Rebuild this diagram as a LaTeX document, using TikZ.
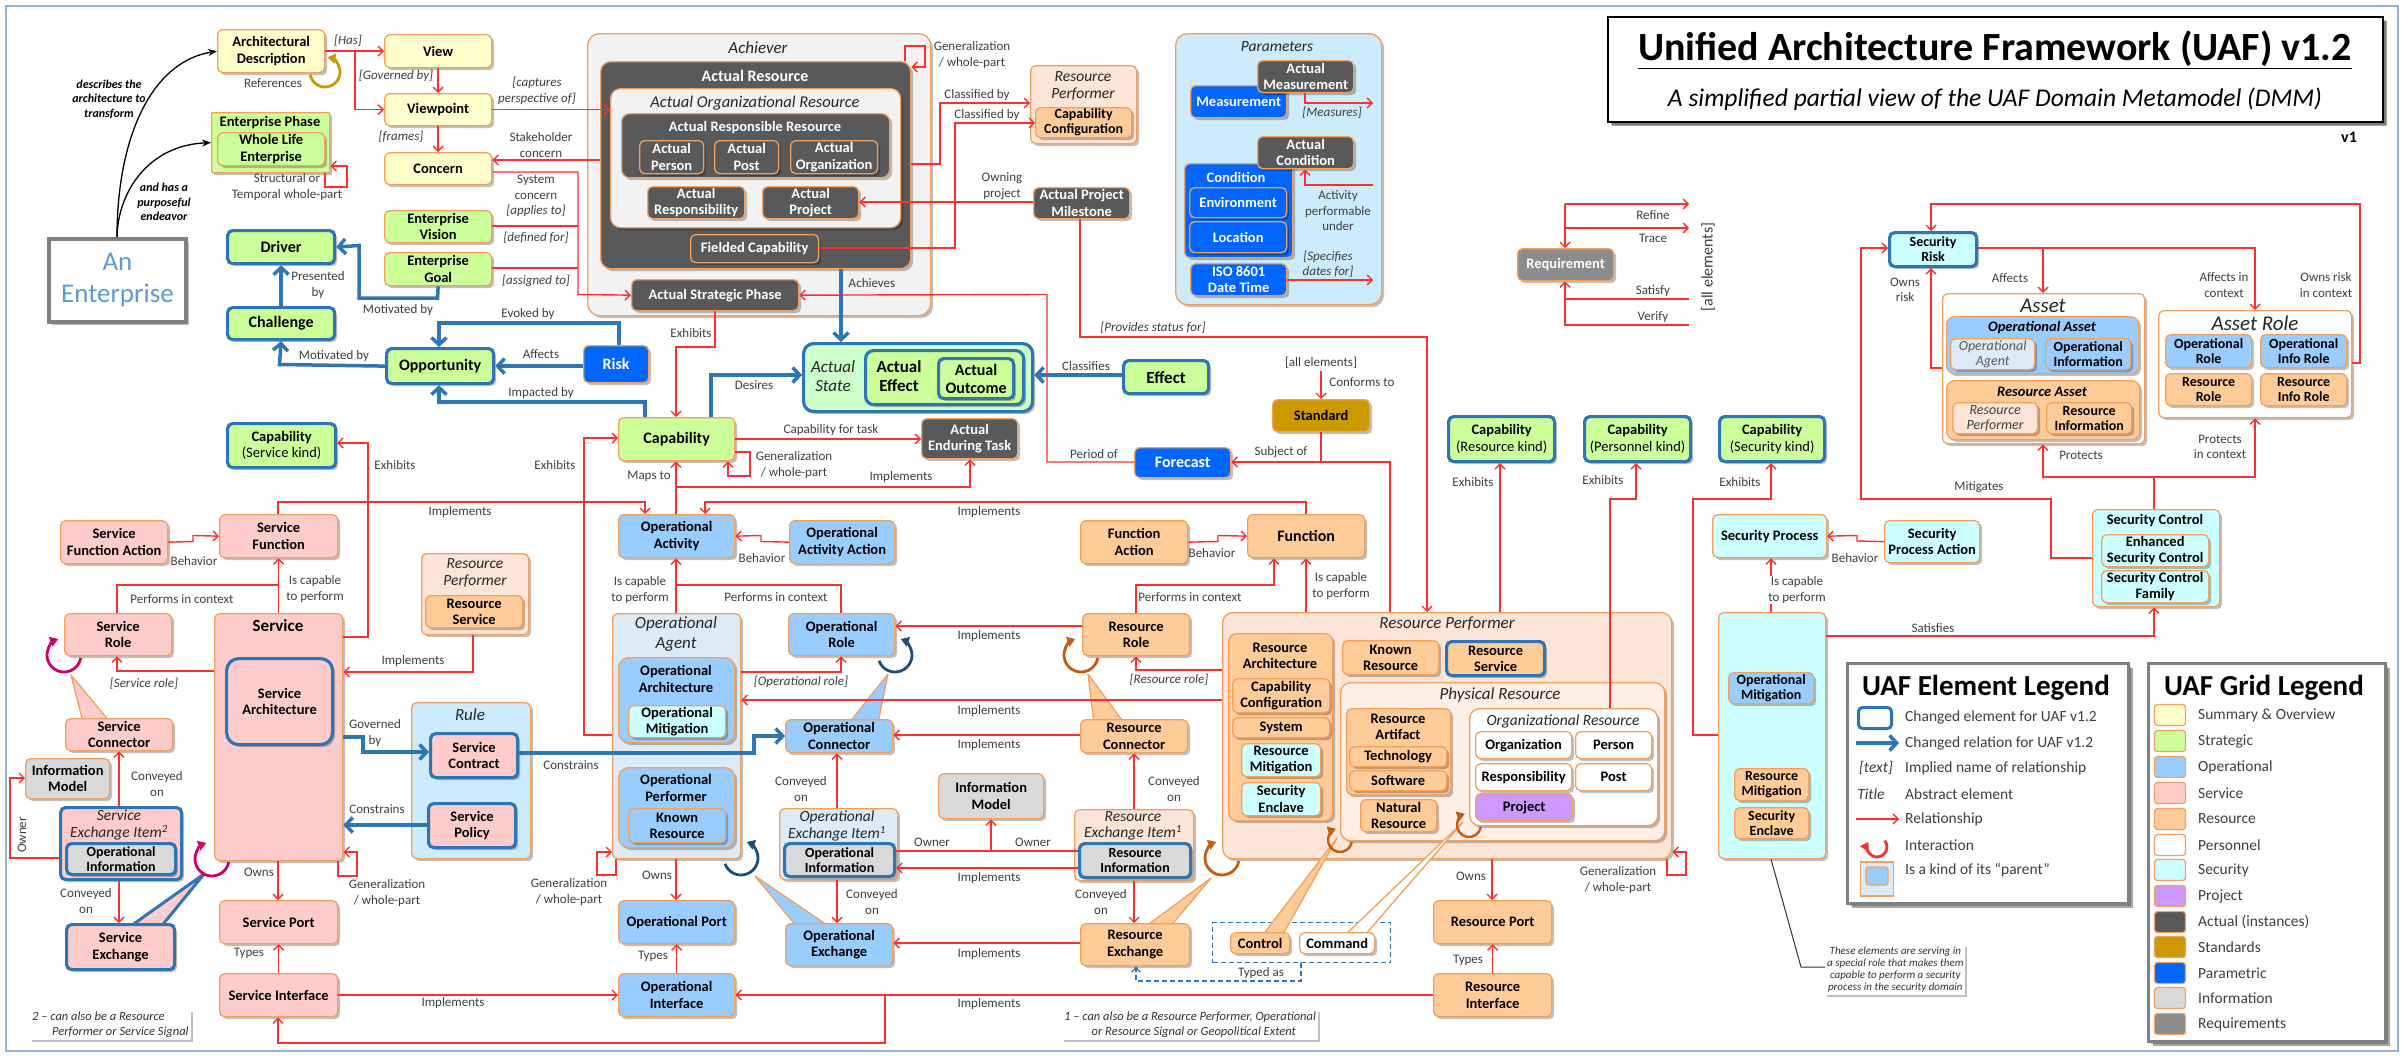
\documentclass[tikz,border=0pt]{standalone}
\usepackage{fontspec}
\setmainfont{Carlito}
\usetikzlibrary{arrows.meta,shadows}
\definecolor{ob}{HTML}{F2A05C}
\definecolor{cblue}{HTML}{2E75B6}
\definecolor{cred}{HTML}{FF2E2E}
\definecolor{cyel}{HTML}{FFFFCC}
\definecolor{cstr}{HTML}{CCFF99}
\definecolor{cop}{HTML}{99CCFF}
\definecolor{csvc}{HTML}{FFCCCC}
\definecolor{cres}{HTML}{FFCC99}
\definecolor{csec}{HTML}{CCFFFF}
\definecolor{cproj}{HTML}{CC99FF}
\definecolor{cact}{HTML}{595959}
\definecolor{cstd}{HTML}{CC9900}
\definecolor{cpar}{HTML}{0066FF}
\definecolor{cinfo}{HTML}{D9D9D9}
\definecolor{creq}{HTML}{8C8C8C}
\definecolor{cabo}{HTML}{DDEBF7}
\definecolor{cabr}{HTML}{FCE4D6}
\definecolor{cgrey}{HTML}{F2F2F2}
\definecolor{cblu}{HTML}{CCEBFC}
\definecolor{cas}{HTML}{CCFFCC}
\definecolor{clab}{HTML}{3F3F3F}
\definecolor{cent}{HTML}{5B9BD5}
\definecolor{cmag}{HTML}{CC0066}
\definecolor{cdb}{HTML}{1F4E79}
\definecolor{cbr}{HTML}{C55A11}
\definecolor{cgold}{HTML}{C99A06}
\definecolor{cframe}{HTML}{95B3D7}
\newcommand{\mkbox}[7]{\node[#6,anchor=north west,minimum width=#4pt-#2pt,minimum height=#5pt-#3pt] (#1) at (#2,#3) {#7};}
\begin{document}
\begin{tikzpicture}[x=1pt,y=-1pt,
 bx/.style={draw=ob,line width=1.3pt,rounded corners=5pt,align=center,inner sep=0.5pt,font=\bfseries\fontsize{14.5}{16.5}\selectfont,text=black,drop shadow={shadow xshift=2.5pt,shadow yshift=-2.5pt,opacity=0.25,fill=black}},
 chg/.style={draw=cblue,line width=3.2pt},
 tight/.style={font=\bfseries\fontsize{14}{15}\selectfont},
 kyel/.style={bx,fill=cyel}, kstr/.style={bx,fill=cstr}, kop/.style={bx,fill=cop},
 ksvc/.style={bx,fill=csvc}, kres/.style={bx,fill=cres}, kper/.style={bx,fill=white},
 ksec/.style={bx,fill=csec}, kproj/.style={bx,fill=cproj}, kact/.style={bx,fill=cact,text=white},
 kstd/.style={bx,fill=cstd}, kpar/.style={bx,fill=cpar,text=white}, kinfo/.style={bx,fill=cinfo},
 kreq/.style={bx,fill=creq,text=white}, kabo/.style={bx,fill=cabo}, kabr/.style={bx,fill=cabr},
 lb/.style={font=\fontsize{13}{15.5}\selectfont,text=clab,align=center,inner sep=1pt},
 lbw/.style={lb,fill=white},
 lbi/.style={lb,font=\itshape\fontsize{13}{15.5}\selectfont},
 tt/.style={font=\itshape\fontsize{15.5}{16.5}\selectfont,align=center,inner sep=0pt,text=black!85},
 tb/.style={font=\bfseries\fontsize{14.5}{16.5}\selectfont,align=center,inner sep=0pt},
 rel/.style={draw=cred,line width=1.4pt,-{Straight Barb[length=5pt,width=10pt]}},
 reln/.style={draw=cred,line width=1.4pt},
 bl/.style={draw=cblue,line width=3.5pt,-{Straight Barb[length=7pt,width=15pt]}},
 inter/.style={line width=2.8pt,-{Triangle[length=8pt,width=10pt]}},
 tl/.style={line width=1.3pt,line join=round},
 note/.style={fill=white,font=\itshape\fontsize{12.5}{15}\selectfont,text=black!80,inner sep=2pt,drop shadow={shadow xshift=2pt,shadow yshift=-2pt,opacity=0.25,fill=black}},
 leg/.style={font=\fontsize{15.5}{17}\selectfont,text=clab,anchor=west,inner sep=0pt},
 sw/.style={draw=ob,line width=1.3pt,rounded corners=3pt,minimum width=31pt,minimum height=21pt,inner sep=0pt}
]
\useasboundingbox (0,0) rectangle (2404,1055);
\fill[white] (0,0) rectangle (2404,1055);
\draw[cframe,line width=1.5pt] (6,6) rectangle (2398,1051);

% ---------- title ----------
\mkbox{title}{1607}{16}{2382}{121}{bx,fill=white,draw=black,line width=2pt,rounded corners=0pt,drop shadow={shadow xshift=4pt,shadow yshift=-4pt,opacity=0.35,fill=black}}{}
\node[font=\bfseries\fontsize{40}{46}\selectfont,inner sep=0pt] (ttl1) at (1995,50) {\underline{Unified Architecture Framework (UAF) v1.2}};
\node[font=\itshape\fontsize{25.5}{30}\selectfont,inner sep=0pt] (ttl2) at (1995,99) {A simplified partial view of the UAF Domain Metamodel (DMM)};
\node[font=\bfseries\fontsize{16}{18}\selectfont] (v1) at (2349,137) {v1};

% ---------- top left ----------
\mkbox{AD}{217}{29}{324}{72}{kyel}{Architectural\\Description}
\mkbox{View}{384}{34}{491}{67}{kyel}{View}
\mkbox{VP}{384}{93}{491}{125}{kyel}{Viewpoint}
\mkbox{Con}{384}{152}{491}{184}{kyel}{Concern}
\mkbox{EPh}{211}{112}{329}{172}{kstr,rounded corners=1pt}{}
\node[tb] (EPht) at (270,123) {Enterprise Phase};
\mkbox{WLE}{217}{132}{324}{165}{kstr}{Whole Life\\Enterprise}
\mkbox{EV}{384}{210}{491}{242}{kstr}{Enterprise\\Vision}
\mkbox{EG}{384}{252}{491}{285}{kstr}{Enterprise\\Goal}
\mkbox{Drv}{226}{229}{333}{262}{kstr,chg,font=\bfseries\fontsize{16}{18}\selectfont}{Driver}
\mkbox{Chl}{226}{306}{333}{338}{kstr,chg,font=\bfseries\fontsize{16}{18}\selectfont}{Challenge}
\mkbox{Opp}{385}{347}{492}{382}{kstr,chg,font=\bfseries\fontsize{16}{18}\selectfont}{Opportunity}
\mkbox{Risk}{583}{345}{648}{382}{kpar,font=\bfseries\fontsize{16}{18}\selectfont}{Risk}
\mkbox{AE}{47}{237}{184}{320}{bx,fill=white,draw=black!50,line width=4pt,rounded corners=0pt,font=\fontsize{27}{32}\selectfont,text=cent}{An\\Enterprise}

% ---------- achiever ----------
\mkbox{Ach}{587}{33}{930}{315}{bx,fill=cgrey,rounded corners=12pt}{}
\node[tt,font=\itshape\fontsize{17}{19}\selectfont] (Acht) at (758,48) {Achiever};
\mkbox{AR}{600}{61}{910}{268}{kact,rounded corners=10pt}{}
\node[tb,text=white,font=\bfseries\fontsize{16}{18}\selectfont] (ARt) at (755,76) {Actual Resource};
\mkbox{AOR}{610}{88}{900}{227}{bx,fill=cgrey,rounded corners=10pt}{}
\node[tt,font=\itshape\fontsize{16.5}{18}\selectfont] (AORt) at (755,103) {Actual Organizational Resource};
\mkbox{ARR}{621}{113}{889}{177}{kact,rounded corners=8pt}{}
\node[tb,text=white] (ARRt) at (755,128) {Actual Responsible Resource};
\mkbox{APer}{639}{140}{703}{173}{kact}{Actual\\Person}
\mkbox{APost}{714}{140}{778}{173}{kact}{Actual\\Post}
\mkbox{AOrg}{790}{140}{877}{173}{kact}{Actual\\Organization}
\mkbox{AResp}{647}{186}{744}{218}{kact}{Actual\\Responsibility}
\mkbox{AProj}{762}{186}{858}{218}{kact}{Actual\\Project}
\mkbox{FC}{690}{234}{818}{262}{kact}{Fielded Capability}
\mkbox{ASP}{631}{279}{798}{310}{kact}{Actual Strategic Phase}
\mkbox{RP1}{1030}{65}{1136}{143}{kabr}{}
\node[tt] (RP1t) at (1083,86) {Resource\\Performer};
\mkbox{CC1}{1035}{107}{1131}{137}{kres,tight}{Capability\\Configuration}
\mkbox{APM}{1033}{187}{1129}{218}{kact}{Actual Project\\Milestone}

% ---------- parameters ----------
\mkbox{Par}{1175}{33}{1381}{304}{bx,fill=cblu,rounded corners=12pt}{}
\node[tt] (Part) at (1277,47) {Parameters};
\mkbox{Meas}{1190}{85}{1286}{117}{kpar}{\raisebox{-3pt}{Measurement}}
\mkbox{AMeas}{1257}{60}{1353}{92}{kact}{Actual\\Measurement}
\mkbox{Cond}{1184}{163}{1292}{257}{kpar}{}
\node[tb,text=white] (Condt) at (1236,177) {Condition};
\mkbox{ACond}{1257}{136}{1353}{168}{kact}{Actual\\Condition}
\mkbox{Env}{1189}{187}{1286}{217}{kpar}{Environment}
\mkbox{Loc}{1189}{221}{1286}{252}{kpar}{Location}
\mkbox{ISO}{1190}{263}{1286}{295}{kpar}{ISO 8601\\Date Time}

% ---------- actual state area ----------
\mkbox{AS}{802}{342}{1031}{410}{bx,fill=cas,chg,rounded corners=10pt}{}
\node[tt,font=\itshape\fontsize{17}{19}\selectfont] (ASt) at (833,376) {Actual\\State};
\mkbox{AEff}{864}{349}{1022}{403}{kstr,chg,rounded corners=8pt}{}
\node[tb,font=\bfseries\fontsize{17}{19}\selectfont] (AEfft) at (899,376) {Actual\\Effect};
\mkbox{AOut}{937}{357}{1012}{397}{kstr,chg,font=\bfseries\fontsize{16}{18}\selectfont}{Actual\\Outcome}
\mkbox{Eff}{1122}{359}{1207}{392}{kstr,chg,font=\bfseries\fontsize{17}{19}\selectfont}{Effect}
\mkbox{Cap}{618}{417}{734}{460}{kstr,font=\bfseries\fontsize{16}{18}\selectfont}{Capability}
\mkbox{AET}{921}{418}{1017}{458}{kact}{Actual\\Enduring Task}
\mkbox{Std}{1272}{399}{1369}{431}{kstd}{Standard}
\mkbox{Fcst}{1134}{447}{1230}{477}{kpar,font=\bfseries\fontsize{16}{18}\selectfont}{Forecast}
\mkbox{Req}{1517}{248}{1613}{280}{kreq}{Requirement}

% ---------- security risk area ----------
\mkbox{SR}{1888}{231}{1975}{265}{ksec,chg,tight}{Security\\Risk}
\mkbox{Asset}{1942}{293}{2144}{443}{kper}{}
\node[tt,font=\itshape\fontsize{21}{24}\selectfont] (Asst) at (2043,306) {Asset};
\mkbox{OAs}{1946}{316}{2138}{373}{kop,rounded corners=8pt}{}
\node[tb,font=\bfseries\itshape\fontsize{14.5}{16}\selectfont] (OAst) at (2042,328) {Operational Asset};
\mkbox{OAg1}{1950}{338}{2034}{369}{kabo,font=\itshape\fontsize{14}{15}\selectfont,text=black!65}{Operational\\Agent}
\mkbox{OInfo}{2045}{338}{2130}{369}{kop,tight}{Operational\\Information}
\mkbox{RAs}{1946}{380}{2139}{439}{kres,rounded corners=8pt}{}
\node[tb,font=\bfseries\itshape\fontsize{14.5}{16}\selectfont] (RAst) at (2042,392) {Resource Asset};
\mkbox{RPf2}{1952}{402}{2037}{433}{kabr,font=\itshape\fontsize{14}{15}\selectfont,text=black!75}{Resource\\Performer}
\mkbox{RInfo2}{2046}{402}{2131}{433}{kres,tight}{Resource\\Information}
\mkbox{ARole}{2158}{310}{2351}{417}{kper}{}
\node[tt,font=\itshape\fontsize{21}{24}\selectfont] (ARolet) at (2255,323) {Asset Role};
\mkbox{ORole2}{2165}{334}{2251}{367}{kop,tight}{Operational\\Role}
\mkbox{OIRole}{2260}{334}{2346}{367}{kop,tight}{Operational\\Info Role}
\mkbox{RRole2}{2165}{373}{2251}{405}{kres,tight}{Resource\\Role}
\mkbox{RIRole}{2260}{373}{2346}{405}{kres,tight}{Resource\\Info Role}

% ---------- capabilities ----------
\mkbox{CapSK}{226}{422}{334}{466}{kstr,chg}{Capability\\{\mdseries (Service kind)}}
\mkbox{CapRK}{1447}{415}{1553}{460}{kstr,chg}{Capability\\{\mdseries (Resource kind)}}
\mkbox{CapPK}{1583}{415}{1689}{460}{kstr,chg}{Capability\\{\mdseries (Personnel kind)}}
\mkbox{CapSecK}{1718}{415}{1823}{460}{kstr,chg}{Capability\\{\mdseries (Security kind)}}

% ---------- function row ----------
\mkbox{SFA}{60}{520}{167}{563}{ksvc}{Service\\Function Action}
\mkbox{SF}{219}{514}{337}{557}{ksvc}{Service\\Function}
\mkbox{OA}{618}{514}{734}{557}{kop}{Operational\\Activity}
\mkbox{OAA}{789}{520}{894}{563}{kop}{Operational\\Activity Action}
\mkbox{FA}{1080}{520}{1187}{563}{kres}{Function\\Action}
\mkbox{Fn}{1247}{514}{1364}{557}{kres,font=\bfseries\fontsize{16}{18}\selectfont}{Function}
\mkbox{SP}{1712}{514}{1826}{557}{ksec}{Security Process}
\mkbox{SPA}{1884}{520}{1979}{562}{ksec}{Security\\Process Action}
\mkbox{RP2}{421}{553}{528}{634}{kabr}{}
\node[tt] (RP2t) at (475,573) {Resource\\Performer};
\mkbox{RS1}{425}{595}{522}{627}{kres}{Resource\\Service}
\mkbox{SC}{2092}{509}{2219}{606}{ksec}{}
\node[tb] (SCt) at (2155,521) {Security Control};
\mkbox{ESC}{2101}{534}{2208}{566}{ksec}{Enhanced\\Security Control}
\mkbox{SCF}{2101}{570}{2208}{602}{ksec}{Security Control\\Family}

% ---------- role row ----------
\mkbox{SRole}{64}{613}{171}{655}{ksvc}{Service\\Role}
\mkbox{Svc}{214}{613}{342}{860}{ksvc}{}
\node[tb,font=\bfseries\fontsize{17}{19}\selectfont] (Svct) at (278,626) {Service};
\mkbox{SA}{225}{657}{331}{743}{ksvc,chg,rounded corners=12pt}{Service\\Architecture}
\mkbox{OAg}{612}{613}{740}{858}{kabo}{}
\node[tt,font=\itshape\fontsize{17}{20}\selectfont] (OAgt) at (676,634) {Operational\\Agent};
\mkbox{OArch}{618}{657}{734}{742}{kop,rounded corners=10pt}{}
\node[tb] (OArcht) at (676,679) {Operational\\Architecture};
\mkbox{OMit}{628}{705}{725}{737}{ksec}{Operational\\Mitigation}
\mkbox{OPerf}{618}{767}{734}{847}{kop,rounded corners=10pt}{}
\node[tb] (OPerft) at (676,788) {Operational\\Performer};
\mkbox{KR1}{628}{808}{725}{842}{kop}{Known\\Resource}
\mkbox{ORole}{788}{613}{894}{655}{kop}{Operational\\Role}
\mkbox{RRole}{1082}{613}{1189}{655}{kres}{Resource\\Role}
\mkbox{RPb}{1222}{612}{1671}{858}{kabr,rounded corners=10pt}{}
\node[tt,font=\itshape\fontsize{17}{19}\selectfont] (RPbt) at (1447,624) {Resource Performer};
\mkbox{RACol}{1228}{633}{1332}{820}{kres,rounded corners=8pt}{}
\node[tb] (RAColt) at (1280,656) {Resource\\Architecture};
\mkbox{CC2}{1232}{678}{1329}{712}{kres}{Capability\\Configuration}
\mkbox{Sys}{1232}{717}{1329}{737}{kres}{System}
\mkbox{RMit}{1241}{743}{1320}{776}{ksec}{Resource\\Mitigation}
\mkbox{SEnc}{1241}{782}{1320}{815}{ksec}{Security\\Enclave}
\mkbox{KR2}{1342}{640}{1438}{674}{kres}{Known\\Resource}
\mkbox{RS2}{1445}{640}{1543}{674}{kres,chg}{Resource\\Service}
\mkbox{PR}{1340}{682}{1664}{840}{bx,fill=cabr!60!white,rounded corners=10pt}{}
\node[tt,font=\itshape\fontsize{17}{19}\selectfont] (PRt) at (1500,695) {Physical Resource};
\mkbox{RArt}{1346}{708}{1450}{794}{kres}{}
\node[tb] (RArtt) at (1398,727) {Resource\\Artifact};
\mkbox{Tech}{1349}{746}{1446}{766}{kres}{Technology}
\mkbox{Soft}{1349}{770}{1446}{790}{kres}{Software}
\mkbox{NatR}{1360}{799}{1436}{831}{kres}{Natural\\Resource}
\mkbox{OrgR}{1469}{708}{1657}{825}{kper,rounded corners=10pt}{}
\node[tt] (OrgRt) at (1563,721) {Organizational Resource};
\mkbox{Org}{1475}{731}{1571}{758}{kper}{Organization}
\mkbox{Pers}{1575}{731}{1651}{758}{kper}{Person}
\mkbox{Resp}{1475}{763}{1571}{790}{kper}{Responsibility}
\mkbox{Post}{1575}{763}{1651}{790}{kper}{Post}
\mkbox{Proj}{1475}{793}{1572}{820}{kproj}{Project}
\mkbox{SecB}{1718}{612}{1825}{858}{ksec}{}
\mkbox{OMit2}{1728}{672}{1813}{703}{kop,tight}{Operational\\Mitigation}
\mkbox{RMit2}{1734}{768}{1808}{800}{kres,tight}{Resource\\Mitigation}
\mkbox{SEnc2}{1734}{807}{1808}{838}{kres,tight}{Security\\Enclave}

% ---------- lower rows ----------
\mkbox{Rule}{411}{702}{530}{858}{bx,fill=cblu}{}
\node[tt,font=\itshape\fontsize{17}{19}\selectfont] (Rulet) at (470,715) {Rule};
\mkbox{SCon}{429}{732}{516}{776}{ksvc,chg}{Service\\Contract}
\mkbox{SPol}{427}{802}{514}{846}{ksvc,chg}{Service\\Policy}
\filldraw[tl,fill=csvc,draw=ob] (83,722) -- (71,675) -- (110,722) -- cycle;
\mkbox{SConn}{65}{718}{172}{750}{ksvc}{Service\\Connector}
\mkbox{IM1}{25}{758}{109}{798}{kinfo}{Information\\Model}
\mkbox{SEI}{59}{806}{180}{878}{ksvc,chg}{}
\node[tt] (SEIt) at (119,825) {Service\\Exchange Item\textsuperscript{2}};
\mkbox{OInf1}{65}{842}{174}{873}{kinfo,chg,tight}{Operational\\Information}
\filldraw[tl,fill=csvc,draw=cblue,line width=3pt] (128,928) -- (204,874) -- (160,928) -- cycle;
\mkbox{SEx}{65}{923}{173}{968}{ksvc,chg}{Service\\Exchange}
\mkbox{SPort}{219}{900}{337}{943}{ksvc}{Service Port}
\mkbox{SInt}{219}{973}{337}{1016}{ksvc}{Service Interface}
\filldraw[tl,fill=cop,draw=ob] (849,723) -- (888,674) -- (878,723) -- cycle;
\mkbox{OConn}{785}{719}{892}{752}{kop}{Operational\\Connector}
\filldraw[tl,fill=cres,draw=ob] (1094,723) -- (1088,674) -- (1124,723) -- cycle;
\mkbox{RConn}{1080}{719}{1187}{752}{kres}{Resource\\Connector}
\mkbox{IM2}{938}{773}{1043}{818}{kinfo}{Information\\Model}
\mkbox{OEI}{779}{808}{897}{879}{kabo}{}
\node[tt] (OEIt) at (837,826) {Operational\\Exchange Item\textsuperscript{1}};
\mkbox{OInf2}{783}{842}{893}{875}{kinfo,chg,tight}{Operational\\Information}
\mkbox{REI}{1074}{809}{1193}{880}{kabr}{}
\node[tt] (REIt) at (1133,826) {Resource\\Exchange Item\textsuperscript{1}};
\mkbox{RInf}{1078}{842}{1189}{876}{kinfo,chg,tight}{Resource\\Information}
\filldraw[tl,fill=cop,draw=ob] (797,927) -- (755,876) -- (830,927) -- cycle;
\mkbox{OEx}{785}{923}{892}{965}{kop}{Operational\\Exchange}
\filldraw[tl,fill=cres,draw=ob] (1145,927) -- (1211,878) -- (1170,927) -- cycle;
\mkbox{REx}{1080}{923}{1189}{965}{kres}{Resource\\Exchange}
\mkbox{OPort}{618}{900}{734}{943}{kop}{Operational Port}
\mkbox{OInt}{618}{973}{734}{1016}{kop}{Operational\\Interface}
\mkbox{RPort}{1433}{900}{1551}{943}{kres}{Resource Port}
\mkbox{RInt}{1433}{973}{1551}{1016}{kres}{Resource\\Interface}
\node[draw=cblue,line width=1.2pt,dash pattern=on 5pt off 3pt,inner sep=0pt,anchor=north west,minimum width=178pt,minimum height=40pt] (CtlB) at (1212,922) {};
\filldraw[tl,fill=cres,draw=ob] (1262,936) -- (1337,838) -- (1282,936) -- cycle;
\filldraw[tl,fill=white,draw=ob] (1344,936) -- (1463,822) -- (1364,936) -- cycle;
\mkbox{Ctrl}{1230}{932}{1289}{953}{kres}{Control}
\mkbox{Cmd}{1299}{932}{1374}{953}{kper}{Command}

% ---------- notes ----------
\node[note,align=left,anchor=north west] (N2) at (30,1010) {2 -- can also be a Resource\\\hspace*{1.6em}Performer or Service Signal};
\node[note,align=left,anchor=north west] (N1) at (1062,1010) {1 -- can also be a Resource Performer, Operational\\\hspace*{2.2em}or Resource Signal or Geopolitical Extent};
\node[note,align=center,font=\itshape\fontsize{11}{12}\selectfont,anchor=west] (N3) at (1825,970) {These elements are serving in\\a special role that makes them\\capable to perform a security\\process in the security domain};

% ---------- legends ----------
\mkbox{ELeg}{1846}{662}{2127}{902}{bx,fill=white,draw=black!50,line width=3pt,rounded corners=0pt,drop shadow={shadow xshift=4pt,shadow yshift=-4pt,opacity=0.35,fill=black}}{}
\node[font=\bfseries\fontsize{29}{32}\selectfont,inner sep=0pt] (ELt) at (1986,688) {UAF Element Legend};
\node[draw=cblue,line width=3pt,rounded corners=4pt,minimum width=33pt,minimum height=21pt,inner sep=0pt] (li1) at (1875,718) {};
\draw[bl] (1856,743) -- (1899,743);
\node[font=\itshape\fontsize{15.5}{17}\selectfont,text=clab] (li3) at (1876,768) {[text]};
\node[font=\itshape\fontsize{15.5}{17}\selectfont,text=clab] (li4) at (1871,794) {Title};
\draw[rel] (1856,819) -- (1899,819);
\draw[inter,cred] (1877,847) ++(40:10pt) arc[start angle=40,end angle=-210,radius=10pt];
\node[draw=ob,fill=cabo,line width=1.2pt,minimum width=33pt,minimum height=34pt,inner sep=0pt] (li7) at (1877,879) {};
\node[draw=ob,fill=cop,line width=1.2pt,rounded corners=3pt,minimum width=22pt,minimum height=18pt,inner sep=0pt] (li7b) at (1877,876) {};
\node[leg] (le1) at (1905,717) {Changed element for UAF v1.2};
\node[leg] (le2) at (1905,743) {Changed relation for UAF v1.2};
\node[leg] (le3) at (1905,768) {Implied name of relationship};
\node[leg] (le4) at (1905,794) {Abstract element};
\node[leg] (le5) at (1905,819) {Relationship};
\node[leg] (le6) at (1905,845) {Interaction};
\node[leg] (le7) at (1905,870) {Is a kind of its ``parent''};

\mkbox{GLeg}{2147}{662}{2384}{1040}{bx,fill=white,draw=black!50,line width=3pt,rounded corners=0pt,drop shadow={shadow xshift=4pt,shadow yshift=-4pt,opacity=0.35,fill=black}}{}
\node[font=\bfseries\fontsize{29}{32}\selectfont,inner sep=0pt] (GLt) at (2264,688) {UAF Grid Legend};
\foreach \yy/\cc/\tx [count=\i] in {715/cyel/Summary \& Overview,741/cstr/Strategic,767/cop/Operational,793/csvc/Service,819/cres/Resource,845/white/Personnel,870/csec/Security,896/cproj/Project,922/cact/Actual (instances),947/cstd/Standards,973/cpar/Parametric,998/cinfo/Information,1024/creq/Requirements}
{\node[sw,fill=\cc] (gs\i) at (2170,\yy) {};
 \node[leg] (gt\i) at (2198,\yy) {\tx};}

% ---------- connectors: top left ----------
\draw[rel] (AD.east) -- (View.west);
\draw[rel] (AD.east -| 355,0) |- (VP.west);
\draw[rel] (View.south) -- (VP.north);
\draw[rel] (VP.east) -- (VP.east -| AOR.west);
\draw[rel] (VP.south) -- (Con.north);
\draw[rel] (AR.west |- 0,160) -- (Con.east |- 0,160);
\draw[rel] (Con.east |- 0,172) -- (578,172) -- (578,294.5) -- (ASP.west);
\draw[reln] (EV.east |- 0,226) -- (578,226);
\draw[reln] (EG.east |- 0,268) -- (578,268);
\draw[line width=1.3pt,-{Stealth[length=9pt,width=7pt]}] (AE.north -| 117,0) .. controls (117,140) and (150,62) .. (AD.west);
\draw[line width=1.3pt,-{Stealth[length=9pt,width=7pt]}] (AE.north -| 117,0) .. controls (118,190) and (150,145) .. (EPh.west);
\draw[bl] (EG.south) -- (437.5,298) -- (359,298) -- (359,245.5) -- (Drv.east);
\draw[bl] (Chl.north) -- (Drv.south);
\draw[bl] (Opp.west) -- (279.5,364.5) -- (Chl.south);
\draw[bl] (Risk.west |- Opp.east) -- (Opp.east);
\draw[bl] (Risk.north -| 619,0) |- (439,323) -- (Opp.north -| 439,0);
\draw[bl] (Cap.north -| 645,0) |- (439,402) -- (Opp.south -| 439,0);
\draw[bl] (Cap.north -| 711,0) |- (AS.west |- 0,375);
\draw[bl] (AR.south -| 841,0) -- (AS.north -| 841,0);
\draw[bl] (Eff.west |- 0,375) -- (AS.east |- 0,375);
\draw[rel] (ASP.south -| 715,0) |- (676,347) -- (Cap.north -| 676,0);
\draw[rel] (Cap.east |- 0,439) -- (AET.west |- 0,439);
\draw[rel] (Cap.east |- 0,452) -- (750,452) -- (750,476) -- (728,476) -- (Cap.south -| 728,0);
\draw[rel] (OA.north -| 676,0) -- (Cap.south -| 676,0);
\coordinate (j1) at (676,487);
\draw[rel] (j1) -| (AET.south -| 970,0);
\draw[rel] (SF.north -| 278,0) |- (645,502) -- (OA.north -| 645,0);
\draw[rel] (Fn.north -| 1306,0) |- (705,502) -- (OA.north -| 705,0);
\draw[rel] (OAA.west) -- (761,541.5) -- (761,535.5) -- (OA.east);
\draw[rel] (SFA.east) -- (193,541.5) -- (193,535.5) -- (SF.west);
\draw[rel] (FA.east) -- (1218,541.5) -- (1218,535.5) -- (Fn.west);
\draw[rel] (SPA.west) -- (1857,541) -- (1857,535.5) -- (SP.east);
\draw[rel] (Svc.north) -- (SF.south);
\draw[reln] (SRole.north -| 117,0) |- (278,585);
\draw[rel] (Svc.west |- 0,671) -| (SRole.south -| 117,0);
\draw[rel] (RP2.south -| 473,0) |- (Svc.east |- 0,672);
\draw[rel] (Svc.east |- 0,637) -- (368,637) -- (368,443) -- (CapSK.east |- 0,443);
\draw[rel] (OAg.west |- 0,735) -- (584,735) -- (584,438) -- (Cap.west |- 0,438);
\draw[rel] (OAg.north -| 676,0) -- (OA.south -| 676,0);
\draw[reln] (ORole.north -| 841,0) |- (676,585);
\draw[rel] (OAg.east |- 0,672) -| (ORole.south -| 841,0);
\draw[rel] (RRole.west |- 0,626) -- (ORole.east |- 0,626);
\draw[rel] (RPb.west |- 0,670) -| (RRole.south -| 1136,0);
\draw[rel] (RPb.west |- 0,700) -- (OAg.east |- 0,700);
\draw[rel] (RRole.north -| 1136,0) |- (1274,585) -- (Fn.south -| 1274,0);
\draw[rel] (RPb.north -| 1306,0) -- (Fn.south -| 1306,0);
\draw[rel] (RPb.north -| 1390,0) |- (Fcst.east |- 0,462);
\draw[reln] (Std.south -| 1321,0) -- (1321,462);
\draw[rel] (Fcst.west |- 0,462) -- (1047,462) -- (1047,294.5) -- (ASP.east);
\draw[rel] (APM.south -| 1080,0) |- (1427,337) -- (RPb.north -| 1427,0);
\coordinate (ae) at (1321,371);
\draw[rel] (ae) -- (Std.north -| 1321,0);
\draw[rel] (RPb.north -| 1500,0) -- (CapRK.south -| 1500,0);
\draw[rel] (OrgR.north -| 1610,0) |- (1636,499) -- (CapPK.south -| 1636,0);
\draw[rel] (SecB.west |- 0,735) -- (1693,735) -- (1693,499) -- (1771,499) -- (CapSecK.south -| 1771,0);
\draw[rel] (SecB.north -| 1771,0) -- (SP.south -| 1771,0);
\draw[rel] (SecB.east |- 0,636) -| (SC.south -| 2154,0);
\draw[rel] (SC.north -| 2154,0) -- (2154,477) -- (2043,477) -- (Asset.south -| 2043,0);
\draw[rel] (2154,477) -- (2255,477) -- (ARole.south -| 2255,0);
\draw[rel] (SC.west |- 0,558) -- (2051,558) -- (2051,499) -- (1861,499) -- (1861,248) -- (SR.west |- 0,248);
\draw[rel] (SR.east |- 0,248) -- (2255,248) -- (ARole.north -| 2255,0);
\draw[rel] (2043,248) -- (Asset.north -| 2043,0);
\draw[rel] (ARole.east |- 0,363) -- (2360,363) -- (2360,204) -- (1931,204) -- (SR.north -| 1931,0);
\draw[rel] (Asset.west |- 0,368) -- (1931,368) -- (SR.south -| 1931,0);
\coordinate (rq1) at (1565,204);
\draw[rel] (rq1) -- (Req.north -| 1565,0);
\draw[rel] (rq1) -- (1689,204);
\draw[rel] (1565,228) -- (1689,228);
\draw[reln] (1689,299) -- (1565,299);
\draw[rel] (1689,325) -- (1565,325) -- (Req.south -| 1565,0);
\draw[rel] (AMeas.south -| 1305,0) |- (1373,103);
\draw[rel] (1373,185) -- (1305,185) -- (ACond.south -| 1305,0);
\draw[rel] (ISO.east |- 0,280) -- (1373,280);
\draw[rel] (AR.east |- 0,164) -- (940,164) -- (940,103) -- (RP1.west |- 0,103);
\draw[rel] (FC.east |- 0,248) -- (955,248) -- (955,123) -- (CC1.west |- 0,123);
\draw[rel] (APM.west |- 0,202) -- (AProj.east |- 0,202);
\draw[rel] (AR.north -| 905,0) -- (905,46) -- (925,46) -- (925,67) -- (AR.east |- 0,67);
\draw[rel] (EPh.south -| 325,0) -- (325,187) -- (347,187) -- (347,166) -- (EPh.east |- 0,166);
\draw[rel] (Svc.south -| 338,0) -- (338,876) -- (357,876) -- (357,852) -- (Svc.east |- 0,852);
\draw[rel] (OAg.south -| 616,0) -- (616,875) -- (597,875) -- (597,852) -- (OAg.west |- 0,852);
\draw[rel] (RPb.south -| 1667,0) -- (1667,875) -- (1686,875) -- (1686,852) -- (RPb.east |- 0,852);
\draw[rel] (Svc.south -| 278,0) -- (SPort.north -| 278,0);
\draw[rel] (SInt.north) -- (SPort.south);
\draw[rel] (SInt.east |- 0,995) -- (OInt.west |- 0,995);
\draw[rel] (RInt.west |- 0,995) -- (OInt.east |- 0,995);
\draw[rel] (885,995) -- (885,1043) -- (278,1043) -- (SInt.south -| 278,0);
\draw[rel] (OAg.south -| 676,0) -- (OPort.north -| 676,0);
\draw[rel] (OInt.north) -- (OPort.south);
\draw[rel] (RPb.south -| 1492,0) -- (RPort.north -| 1492,0);
\draw[rel] (RInt.north) -- (RPort.south);
\draw[bl] (Svc.east |- 0,737) -- (363,737) -- (363,752) -- (SCon.west |- 0,752);
\draw[bl] (SCon.east |- 0,753) -- (754,753) -- (754,736) -- (OConn.west |- 0,736);
\draw[bl] (SPol.west |- 0,825) -- (Svc.east |- 0,825);
\draw[rel] (RConn.west |- 0,735) -- (OConn.east |- 0,735);
\draw[rel] (OEI.north -| 837,0) -- (OConn.south -| 837,0);
\draw[rel] (REI.north -| 1134,0) -- (RConn.south -| 1134,0);
\draw[rel] (OEI.south -| 837,0) -- (OEx.north -| 837,0);
\draw[rel] (REI.south -| 1134,0) -- (REx.north -| 1134,0);
\draw[reln] (OInf2.east |- 0,851) -- (RInf.west |- 0,851);
\draw[rel] (991,851) -- (IM2.south -| 991,0);
\draw[rel] (RInf.west |- 0,868) -- (OInf2.east |- 0,868);
\draw[rel] (REx.west |- 0,943) -- (OEx.east |- 0,943);
\draw[draw=cblue,line width=1.2pt,dash pattern=on 5pt off 3pt,-{Straight Barb[length=5pt,width=9pt]}] (CtlB.south -| 1301,0) -- (1301,981) -- (1136,981) -- (REx.south -| 1136,0);
\draw[rel] (SEI.north -| 119,0) -- (SConn.south -| 119,0);
\draw[rel] (SEI.south -| 119,0) -- (SEx.north -| 119,0);
\draw[rel] (SEI.west |- 0,858) -- (10,858) -- (10,778) -- (IM1.west |- 0,778);
\draw[black!80,line width=1pt] (SecB.south -| 1771,0) -- (1801,967) -- (N3.west |- 0,967);

% ---------- interaction arcs ----------
\draw[inter,cgold] (325,72) ++(190:15pt) arc[start angle=190,end angle=440,radius=15pt];
\draw[inter,cmag] (64,655) ++(-10:17pt) arc[start angle=-10,end angle=-250,radius=17pt];
\draw[inter,cmag] (212,859) ++(-10:17pt) arc[start angle=-10,end angle=-250,radius=17pt];
\draw[inter,cdb] (895,655) ++(200:17pt) arc[start angle=200,end angle=430,radius=17pt];
\draw[inter,cbr] (1081,655) ++(-10:17pt) arc[start angle=-10,end angle=-250,radius=17pt];
\draw[inter,cdb] (741,858) ++(200:17pt) arc[start angle=200,end angle=430,radius=17pt];
\draw[inter,cbr] (1222,858) ++(-10:17pt) arc[start angle=-10,end angle=-250,radius=17pt];
\draw[inter,cbr,line width=2.4pt] (1340,840) ++(-10:12pt) arc[start angle=-10,end angle=-250,radius=12pt];
\draw[inter,cbr,line width=2.4pt] (1469,825) ++(-10:12pt) arc[start angle=-10,end angle=-250,radius=12pt];

% ---------- labels ----------
\node[lbi] (l1) at (348,41) {[Has]};
\node[lb] (l2) at (273,83) {References};
\node[lbi] (l3) at (396,76) {[Governed by]};
\node[lbi] (l4) at (537,91) {[captures\\perspective of]};
\node[lbi] (l5) at (401,137) {[frames]};
\node[lb] (l6) at (541,145) {Stakeholder\\concern};
\node[lb] (l7) at (536,196) {System\\concern\\\textit{[applies to]}};
\node[lbi] (l8) at (536,238) {[defined for]};
\node[lbi] (l9) at (536,281) {[assigned to]};
\node[lb,text=black,font=\bfseries\itshape\fontsize{12}{14.5}\selectfont] (l10) at (109,99) {describes the\\architecture to\\transform};
\node[lb,text=black,font=\bfseries\itshape\fontsize{12}{14.5}\selectfont] (l11) at (164,202) {and has a\\purposeful\\endeavor};
\node[lb] (l12) at (287,187) {Structural or\\Temporal whole-part};
\node[lb] (l13) at (318,285) {Presented\\by};
\node[lb] (l14) at (398,310) {Motivated by};
\node[lb] (l15) at (528,314) {Evoked by};
\node[lb] (l16) at (334,356) {Motivated by};
\node[lb] (l17) at (541,354) {Affects};
\node[lb] (l18) at (541,393) {Impacted by};
\node[lb] (l19) at (972,55) {Generalization\\/ whole-part};
\node[lb] (l20) at (977,95) {Classified by};
\node[lb] (l21) at (987,115) {Classified by};
\node[lb] (l22) at (1002,186) {Owning\\project};
\node[lb] (l23) at (691,333) {Exhibits};
\node[lb] (l24) at (872,283) {Achieves};
\node[lbi] (l25) at (1332,113) {[Measures]};
\node[lb] (l26) at (1338,211) {Activity\\performable\\under};
\node[lbi] (l27) at (1328,264) {[Specifies\\dates for]};
\node[lbi] (l28) at (1153,328) {[Provides status for]};
\node[lb] (l29) at (1653,215) {Refine};
\node[lb] (l30) at (1653,238) {Trace};
\node[lb] (l31) at (1653,291) {Satisfy};
\node[lb] (l32) at (1653,317) {Verify};
\node[lb,rotate=90,font=\fontsize{16}{18}\selectfont] (l33) at (1708,267) {[all elements]};
\node[lb] (l34) at (754,385) {Desires};
\node[lb] (l35) at (1086,366) {Classifies};
\node[lb] (l36) at (831,430) {Capability for task};
\node[lb] (l37) at (794,465) {Generalization\\/ whole-part};
\node[lbw] (l38) at (649,476) {Maps to};
\node[lbw] (l39) at (901,477) {Implements};
\node[lb] (l40) at (1321,363) {[all elements]};
\node[lb] (l41) at (1362,382) {Conforms to};
\node[lb] (l42) at (1281,452) {Subject of};
\node[lb] (l43) at (1094,454) {Period of};
\node[lb] (l44) at (395,465) {Exhibits};
\node[lb] (l45) at (555,465) {Exhibits};
\node[lbw] (l46) at (1473,482) {Exhibits};
\node[lb] (l47) at (1603,480) {Exhibits};
\node[lbw] (l48) at (1740,482) {Exhibits};
\node[lb] (l49) at (460,512) {Implements};
\node[lb] (l50) at (989,512) {Implements};
\node[lb] (l51) at (194,561) {Behavior};
\node[lb] (l52) at (762,558) {Behavior};
\node[lb] (l53) at (1212,553) {Behavior};
\node[lb] (l54) at (1855,558) {Behavior};
\node[lb] (l55) at (315,589) {Is capable\\to perform};
\node[lb] (l56) at (640,590) {Is capable\\to perform};
\node[lb] (l57) at (1341,586) {Is capable\\to perform};
\node[lbw] (l58) at (1797,590) {Is capable\\to perform};
\node[lb] (l59) at (182,599) {Performs in context};
\node[lb] (l60) at (776,597) {Performs in context};
\node[lb] (l61) at (1190,597) {Performs in context};
\node[lb] (l62) at (413,661) {Implements};
\node[lbi] (l63) at (144,684) {[Service role]};
\node[lbi] (l64) at (801,682) {[Operational role]};
\node[lbi] (l65) at (1169,680) {[Resource role]};
\node[lb] (l66) at (989,636) {Implements};
\node[lb] (l67) at (989,711) {Implements};
\node[lbw] (l68) at (1979,487) {Mitigates};
\node[lbw] (l69) at (2010,278) {Affects};
\node[lbw] (l70) at (2224,285) {Affects in\\context};
\node[lbw] (l71) at (2326,285) {Owns risk\\in context};
\node[lbw] (l72) at (1905,290) {Owns\\risk};
\node[lbw] (l73) at (2081,455) {Protects};
\node[lb] (l74) at (2220,447) {Protects\\in context};
\node[lbw] (l75) at (1933,628) {Satisfies};
\node[lb] (l76) at (375,733) {Governed\\by};
\node[lb] (l77) at (571,765) {Constrains};
\node[lb] (l78) at (377,809) {Constrains};
\node[lbw] (l79) at (157,784) {Conveyed\\on};
\node[lb] (l80) at (86,901) {Conveyed\\on};
\node[lb,rotate=90] (l81) at (22,835) {Owner};
\node[lbw] (l82) at (259,872) {Owns};
\node[lbw] (l83) at (249,953) {Types};
\node[lb] (l84) at (387,893) {Generalization\\/ whole-part};
\node[lb] (l85) at (569,892) {Generalization\\/ whole-part};
\node[lb] (l86) at (453,1003) {Implements};
\node[lb] (l87) at (989,745) {Implements};
\node[lbw] (l88) at (801,789) {Conveyed\\on};
\node[lbw] (l89) at (1174,789) {Conveyed\\on};
\node[lb] (l90) at (932,842) {Owner};
\node[lb] (l91) at (1033,842) {Owner};
\node[lb] (l92) at (989,878) {Implements};
\node[lb] (l93) at (872,902) {Conveyed\\on};
\node[lb] (l94) at (1101,902) {Conveyed\\on};
\node[lb] (l95) at (989,954) {Implements};
\node[lbw] (l96) at (657,875) {Owns};
\node[lb] (l97) at (653,956) {Types};
\node[lb] (l98) at (989,1004) {Implements};
\node[lbw] (l99) at (1261,973) {Typed as};
\node[lbw] (l100) at (1471,876) {Owns};
\node[lbw] (l101) at (1468,960) {Types};
\node[lb] (l102) at (1618,880) {Generalization\\/ whole-part};
\end{tikzpicture}
\end{document}
